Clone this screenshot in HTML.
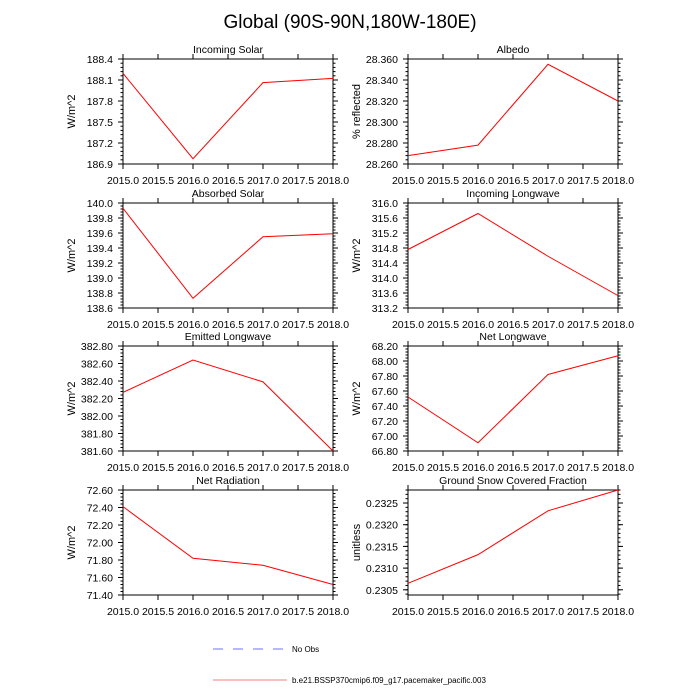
<!DOCTYPE html>
<html><head><meta charset="utf-8"><style>
html,body{margin:0;padding:0;background:#fff;}
svg{display:block;font-family:"Liberation Sans",sans-serif;}
</style></head><body>
<svg id="chart" width="700" height="700" viewBox="0 0 700 700">
<text x="350" y="28" font-size="19" text-anchor="middle">Global (90S-90N,180W-180E)</text>
<g id="panels"></g>
<g>
<line x1="213" y1="649" x2="287" y2="649" stroke="#6f6fff" stroke-width="1" stroke-dasharray="10,10"/>
<text x="292" y="652" font-size="8">No Obs</text>
<line x1="213" y1="680" x2="287" y2="680" stroke="#f08080" stroke-width="1"/>
<text x="292" y="683" font-size="8">b.e21.BSSP370cmip6.f09_g17.pacemaker_pacific.003</text>
</g>
</svg>
<script>
const years = [2015, 2016, 2017, 2018];
const xTicks = [2015.0, 2015.5, 2016.0, 2016.5, 2017.0, 2017.5, 2018.0];
const titles = ["Incoming Solar","Albedo","Absorbed Solar","Incoming Longwave","Emitted Longwave","Net Longwave","Net Radiation","Ground Snow Covered Fraction"];
const units = ["W/m^2","% reflected","W/m^2","W/m^2","W/m^2","W/m^2","W/m^2","unitless"];
const incomingSolar = [188.195, 186.976, 188.062, 188.124];
const albedo = [28.268, 28.278, 28.355, 28.320];
const absorbedSolar = [139.93, 138.73, 139.55, 139.59];
const incomingLongwave = [314.76, 315.72, 314.58, 313.53];
const emittedLongwave = [382.27, 382.64, 382.39, 381.60];
const netLongwave = [67.52, 66.91, 67.82, 68.07];
const netRadiation = [72.41, 71.82, 71.74, 71.52];
const snowFraction = [0.23065, 0.23131, 0.23232, 0.23280];
const yMin = [186.9, 28.260, 138.6, 313.2, 381.6, 66.8, 71.4, 0.23038];
const yMax = [188.4, 28.360, 140.0, 316.0, 382.8, 68.2, 72.6, 0.23280];
const yTickStart = [186.9, 28.260, 138.6, 313.2, 381.6, 66.8, 71.4, 0.2305];
const yTickStep = [0.3, 0.02, 0.2, 0.4, 0.2, 0.2, 0.2, 0.0005];
const yDecimals = [1, 3, 1, 1, 2, 2, 2, 4];
const series = [incomingSolar, albedo, absorbedSolar, incomingLongwave, emittedLongwave, netLongwave, netRadiation, snowFraction];

const NS = "http://www.w3.org/2000/svg";
const root = document.getElementById("panels");
function mk(tag, attrs, parent){const e=document.createElementNS(NS,tag);for(const k in attrs)e.setAttribute(k,attrs[k]);(parent||root).appendChild(e);return e;}
const colX = [123, 408], rowY = [59, 203, 346, 490], W = 210, H = 105;

for (let i = 0; i < 8; i++) {
  const x0 = colX[i % 2], y0 = rowY[Math.floor(i / 2)];
  const g = mk("g", {});
  
  
  const xs = v => x0 + (v - 2015) / 3 * W;
  const ys = v => y0 + H - (v - yMin[i]) / (yMax[i] - yMin[i]) * H;
  const t = mk("text", {x: x0 + W / 2, y: y0 - 6, "font-size": 10.5, "text-anchor": "middle"}, g);
  t.textContent = titles[i];
  
  
  const yl = mk("text", {x: 0, y: 0, "font-size": 11, "text-anchor": "middle", transform: `translate(${x0 - 48},${y0 + H / 2}) rotate(-90)`}, g);
  yl.textContent = units[i];
  
  
  xTicks.forEach(v => {
    const px = xs(v);
    mk("line", {x1: px, y1: y0 + H, x2: px, y2: y0 + H + 5, stroke: "#000"}, g);
    mk("line", {x1: px, y1: y0, x2: px, y2: y0 - 5, stroke: "#000"}, g);
    const lb = mk("text", {x: px, y: y0 + H + 20, "font-size": 10.5, "text-anchor": "middle"}, g);
    lb.textContent = v.toFixed(1);
    
    
  });
  const step = yTickStep[i], minor = step / 5;
  for (let v = yTickStart[i] - step; v <= yMax[i] + 1e-9; v += minor) {
    if (v < yMin[i] - 1e-9) continue;
    const py = ys(v);
    mk("line", {x1: x0, y1: py, x2: x0 - 2.5, y2: py, stroke: "#000"}, g);
    mk("line", {x1: x0 + W, y1: py, x2: x0 + W + 2.5, y2: py, stroke: "#000"}, g);
  }
  for (let v = yTickStart[i]; v <= yMax[i] + step * 1e-6; v += step) {
    const py = ys(v);
    mk("line", {x1: x0, y1: py, x2: x0 - 5, y2: py, stroke: "#000"}, g);
    mk("line", {x1: x0 + W, y1: py, x2: x0 + W + 5, y2: py, stroke: "#000"}, g);
    const lb = mk("text", {x: x0 - 10, y: py + 4, "font-size": 10.5, "text-anchor": "end"}, g);
    lb.textContent = v.toFixed(yDecimals[i]);
    
    
  }
  const fr = mk("rect", {x: x0, y: y0, width: W, height: H, fill: "none", stroke: "#000", "stroke-width": 1}, g);
  
  
  const pts = series[i].map((v, k) => xs(years[k]) + "," + ys(v)).join(" ");
  const pl = mk("polyline", {points: pts, fill: "none", stroke: "#ff0000", "stroke-width": 1}, g);
  
  
}
</script>
</body></html>
